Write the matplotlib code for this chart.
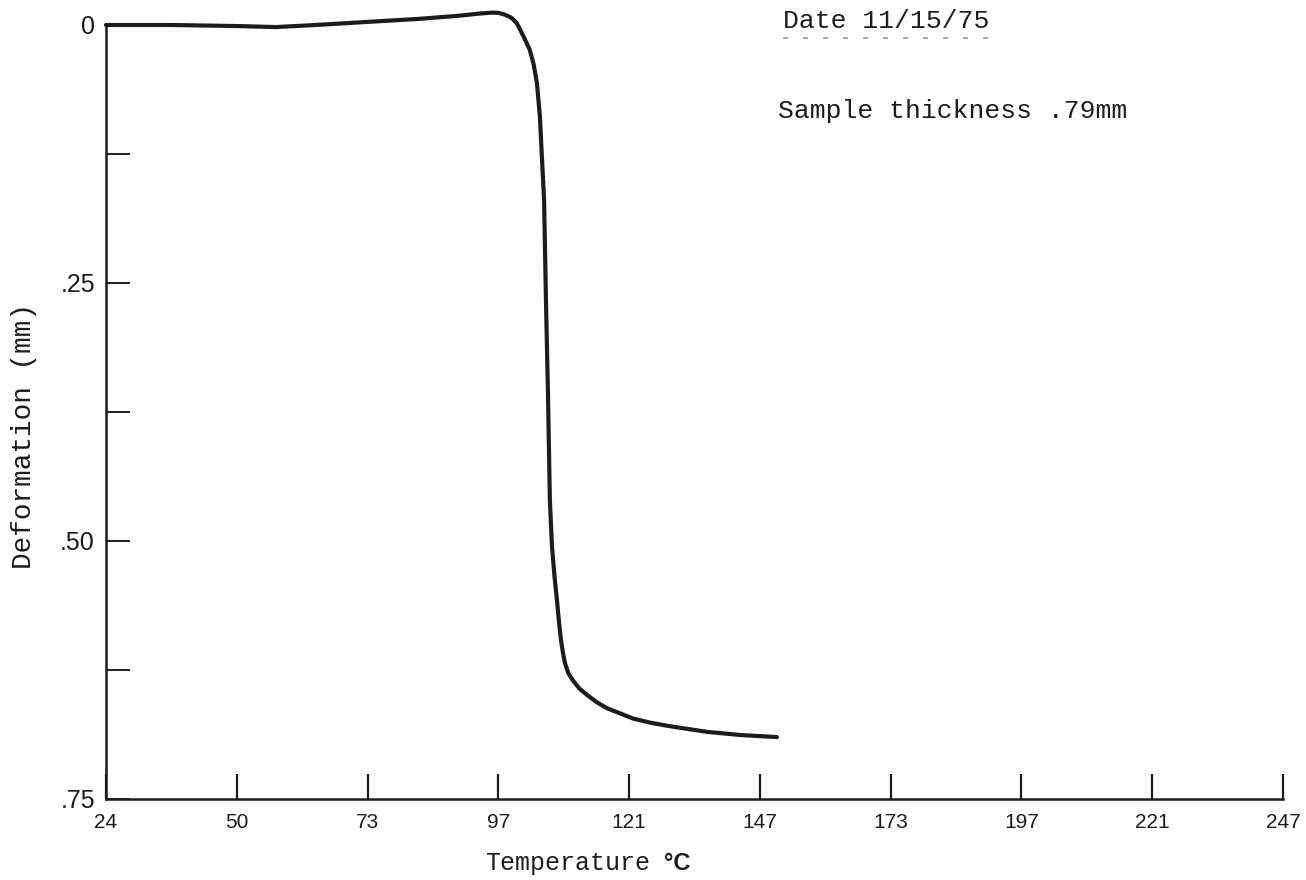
import matplotlib
matplotlib.use("Agg")
import matplotlib.pyplot as plt

# --- data (x in axis divisions, 0 = 24 C) ---
temp_labels = ["24", "50", "73", "97", "121", "147", "173", "197", "221", "247"]
pos = [0.0, 0.5, 1.0, 1.3, 1.45, 1.6, 2.0, 2.4, 2.7, 2.85, 2.95, 3.00,
       3.05, 3.10, 3.14, 3.165, 3.20, 3.24, 3.27, 3.295, 3.318, 3.33, 3.35,
       3.364, 3.38, 3.394, 3.41, 3.43, 3.448, 3.465, 3.479, 3.495, 3.509,
       3.535, 3.570, 3.62, 3.677, 3.75, 3.830, 3.93, 4.029, 4.16, 4.289,
       4.442, 4.60, 4.85, 5.13]
deform = [0.0, 0.0, 0.001, 0.002, 0.001, 0.0, -0.003, -0.006, -0.009,
          -0.011, -0.012, -0.0118, -0.010, -0.007, -0.002, 0.004, 0.013,
          0.024, 0.038, 0.056, 0.089, 0.12, 0.17, 0.266, 0.36, 0.46, 0.505,
          0.535, 0.557, 0.580, 0.596, 0.609, 0.618, 0.628, 0.635, 0.643,
          0.649, 0.656, 0.662, 0.667, 0.672, 0.676, 0.679, 0.682, 0.685,
          0.688, 0.690]
y_major = [0, 0.25, 0.50, 0.75]
y_major_labels = ["0", ".25", ".50", ".75"]
y_minor = [0.125, 0.375, 0.625]

ink = "#1c1c1c"
mono = "Liberation Mono"
sans = "Liberation Sans"

fig = plt.figure(figsize=(13.06, 8.80), dpi=100)
ax = fig.add_axes([106 / 1306, 1 - 799 / 880, 1177 / 1306, 774 / 880])

ax.plot(pos, deform, color=ink, lw=3.0, clip_on=False,
        solid_capstyle="round", solid_joinstyle="round")

ax.set_xlim(0, 9)
ax.set_ylim(0.75, 0)
for s in ("top", "right"):
    ax.spines[s].set_visible(False)
for s in ("left", "bottom"):
    ax.spines[s].set_linewidth(1.8)
    ax.spines[s].set_color(ink)

ax.set_xticks(range(len(temp_labels)))
ax.set_xticklabels(temp_labels, fontfamily=sans, fontsize=15, color=ink)
ax.set_yticks(y_major)
ax.set_yticklabels(y_major_labels, fontfamily=sans, fontsize=18, color=ink)
ax.set_yticks(y_minor, minor=True)
ax.tick_params(axis="x", direction="in", length=18, width=1.6, color=ink, pad=10)
ax.tick_params(axis="y", which="both", direction="in", length=17, width=1.4,
               color=ink, pad=8)

# axis titles, typewriter style
fig.text(24 / 1306, 1 - 436 / 880, "Deformation (mm)", rotation=90,
         ha="center", va="center", fontfamily=mono, fontsize=20, color=ink)
fig.text(485 / 1306, 1 - 870 / 880, "Temperature", ha="left", va="baseline",
         fontfamily=mono, fontsize=18, color=ink)
fig.text(664 / 1306, 1 - 870 / 880, "\u00b0C", ha="left", va="baseline",
         fontfamily=sans, fontsize=17, fontweight="bold", color=ink)

# notes in the upper right
fig.text(783 / 1306, 1 - 28 / 880, "Date 11/15/75", ha="left", va="baseline",
         fontfamily=mono, fontsize=19, color=ink)
fig.lines.append(plt.Line2D([783 / 1306, 990 / 1306], [1 - 38 / 880] * 2,
                            transform=fig.transFigure, color="#9a9a9a",
                            lw=1.2, ls=(0, (3, 9))))
fig.text(778 / 1306, 1 - 118 / 880, "Sample thickness .79mm", ha="left",
         va="baseline", fontfamily=mono, fontsize=19, color=ink)

fig.savefig("out.png", dpi=100, facecolor="white")
